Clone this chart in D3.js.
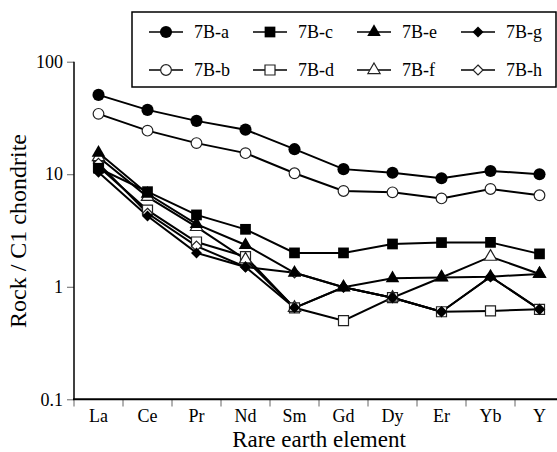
<!DOCTYPE html>
<html>
<head>
<meta charset="utf-8">
<script src="https://cdn.jsdelivr.net/npm/d3@7"></script>
<style>
  body { margin: 0; background: #fff; }
  svg { display: block; font-family: "Liberation Serif", "Times New Roman", serif; }
  .tick text { font-size: 18px; fill: #000; }
</style>
</head>
<body>
<div id="chart"></div>
<script>
const elements = ['La', 'Ce', 'Pr', 'Nd', 'Sm', 'Gd', 'Dy', 'Er', 'Yb', 'Y'];
const yTicks = [0.1, 1, 10, 100];

// values (rock / C1 chondrite)
const s7Ba = [50.7, 37.3, 29.8, 24.9, 16.7, 11.1, 10.3, 9.2, 10.7, 10.0];
const s7Bb = [34.4, 24.4, 18.9, 15.4, 10.2, 7.1, 6.9, 6.1, 7.4, 6.5];
const s7Bc = [11.3, 7.0, 4.35, 3.24, 2.0, 2.0, 2.4, 2.47, 2.48, 1.96];
const s7Bd = [11.7, 4.8, 2.5, 1.85, 0.65, 0.5, 0.8, 0.6, 0.61, 0.63];
const s7Be = [15.5, 6.7, 3.6, 2.35, 1.33, 0.99, 1.19, 1.21, 1.23, 1.3];
const s7Bf = [14.2, 6.3, 3.4, 1.75, 0.65, 0.99, 0.8, 1.21, 1.85, 1.3];
const s7Bg = [10.4, 4.25, 2.0, 1.5, 0.65, 0.99, 0.8, 0.6, 1.23, 0.63];
const s7Bh = [12.5, 4.5, 2.3, 1.5, 1.33, 0.99, 0.8, 0.6, 1.23, 0.63];

const series = [
  { name: '7B-a', values: s7Ba, shape: 'circle', filled: true },
  { name: '7B-b', values: s7Bb, shape: 'circle', filled: false },
  { name: '7B-c', values: s7Bc, shape: 'square', filled: true },
  { name: '7B-d', values: s7Bd, shape: 'square', filled: false },
  { name: '7B-e', values: s7Be, shape: 'triangle', filled: true },
  { name: '7B-f', values: s7Bf, shape: 'triangle', filled: false },
  { name: '7B-g', values: s7Bg, shape: 'diamond', filled: true },
  { name: '7B-h', values: s7Bh, shape: 'diamond', filled: false }
];

const W = 557, H = 452;
const svg = d3.select('#chart').append('svg')
  .attr('width', W)
  .attr('height', H);

const x = d3.scaleBand().domain(elements).range([74, 564]);
const y = d3.scaleLog().domain([0.1, 100]).range([399.3, 61.7]);

function markerPath(shape, filled) {
  if (shape === 'circle') return d3.symbol(d3.symbolCircle, filled ? 115 : 90)();
  if (shape === 'square') return d3.symbol(d3.symbolSquare, filled ? 115 : 100)();
  if (shape === 'triangle') return d3.symbol(d3.symbolTriangle, filled ? 80 : 65)();
  const r = filled ? 5.5 : 5;
  return `M0,${-r}L${r},0L0,${r}L${-r},0Z`;
}

// y axis
const yAxis = svg.append('g')
  .attr('transform', 'translate(74,0)')
  .call(d3.axisLeft(y).tickValues(yTicks).tickFormat(d => d).tickSize(7).tickSizeOuter(0).tickPadding(4))
  .attr('font-family', null).attr('font-size', null);
yAxis.select('.domain').remove();
yAxis.selectAll('.tick line').attr('stroke', '#666').attr('stroke-width', 1);

// x axis: labels centred, ticks on band edges
const xAxis = svg.append('g')
  .attr('transform', 'translate(0,399.3)')
  .call(d3.axisBottom(x).tickSize(0))
  .attr('font-family', null).attr('font-size', null);
xAxis.select('.domain').remove();
xAxis.selectAll('.tick text').attr('dy', null).attr('y', 23);

svg.append('g').selectAll('line')
  .data(elements)
  .join('line')
  .attr('x1', d => x(d)).attr('x2', d => x(d))
  .attr('y1', 399.3).attr('y2', 406.5)
  .attr('stroke', '#666').attr('stroke-width', 1);

svg.append('line')
  .attr('x1', 74).attr('x2', 74)
  .attr('y1', y(100)).attr('y2', 399.3)
  .attr('stroke', '#000').attr('stroke-width', 1.5);
svg.append('line')
  .attr('x1', 73).attr('x2', W)
  .attr('y1', 399.3).attr('y2', 399.3)
  .attr('stroke', '#000').attr('stroke-width', 2);

// axis titles
svg.append('text')
  .attr('x', 319).attr('y', 446.5)
  .attr('text-anchor', 'middle')
  .style('font-size', '23px')
  .text('Rare earth element');

svg.append('text')
  .attr('transform', 'translate(26,231) rotate(-90)')
  .attr('text-anchor', 'middle')
  .style('font-size', '24px')
  .text('Rock / C1 chondrite');

// lines
const cx = d => x(d) + x.bandwidth() / 2;
const line = d3.line()
  .x((v, i) => cx(elements[i]))
  .y(v => y(v));

svg.append('g').selectAll('path')
  .data(series)
  .join('path')
  .attr('d', d => line(d.values))
  .attr('fill', 'none')
  .attr('stroke', '#000')
  .attr('stroke-width', 2);

// markers: open ones first so filled ones sit on top in clusters
const drawOrder = ['7B-b', '7B-d', '7B-f', '7B-h', '7B-a', '7B-c', '7B-g', '7B-e']
  .map(n => series.find(s => s.name === n));

drawOrder.forEach(s => {
  svg.append('g').selectAll('path')
    .data(s.values)
    .join('path')
    .attr('transform', (v, i) => `translate(${cx(elements[i])},${y(v)})`)
    .attr('d', markerPath(s.shape, s.filled))
    .attr('fill', s.filled ? '#000' : '#fff')
    .attr('stroke', s.filled ? 'none' : '#222')
    .attr('stroke-width', 1.2);
});

// legend
const legend = svg.append('g');
legend.append('rect')
  .attr('x', 132).attr('y', 12)
  .attr('width', 424).attr('height', 75)
  .attr('fill', '#fff')
  .attr('stroke', '#000')
  .attr('stroke-width', 1.5);

const legendOrder = ['7B-a', '7B-c', '7B-e', '7B-g', '7B-b', '7B-d', '7B-f', '7B-h'];
legendOrder.forEach((n, i) => {
  const s = series.find(d => d.name === n);
  const lx = 149 + (i % 4) * 104;
  const ly = i < 4 ? 32 : 70;
  const item = legend.append('g');
  item.append('line')
    .attr('x1', lx).attr('x2', lx + 34)
    .attr('y1', ly).attr('y2', ly)
    .attr('stroke', '#000').attr('stroke-width', 1.5);
  item.append('path')
    .attr('transform', `translate(${lx + 17},${ly})`)
    .attr('d', markerPath(s.shape, s.filled))
    .attr('fill', s.filled ? '#000' : '#fff')
    .attr('stroke', s.filled ? 'none' : '#222')
    .attr('stroke-width', 1.2);
  item.append('text')
    .attr('x', lx + 45).attr('y', ly)
    .attr('dy', '0.33em')
    .style('font-size', '18px')
    .text(s.name);
});
</script>
</body>
</html>
